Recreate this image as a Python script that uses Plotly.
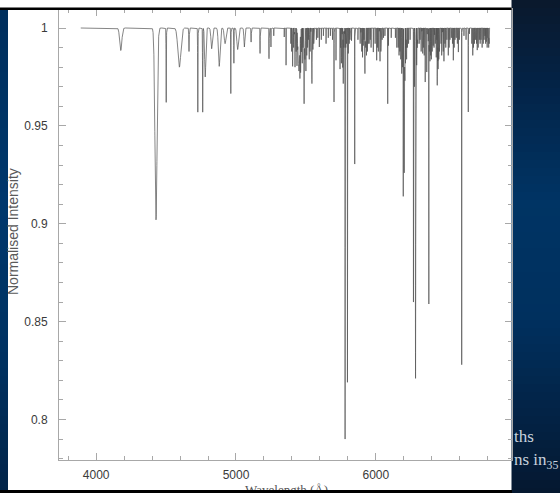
import numpy as np
import plotly.graph_objects as go

# ---------------- data ----------------
# absorption features: centre wavelength (Angstrom), depth below continuum
line_centres = [
    4176, 4428, 4501, 4595, 4664, 4727, 4762, 4780, 4826, 4880, 4922, 4963, 4985,
    5012, 5060, 5108, 5172, 5236, 5250, 5270, 5345, 5358,
    5392, 5398, 5405, 5412, 5418, 5422, 5430, 5436, 5441, 5450, 5457, 5462, 5468,
    5474, 5479, 5487, 5493, 5500, 5506, 5512, 5518, 5524, 5530, 5536, 5543, 5547,
    5550, 5556, 5575, 5585, 5596, 5610, 5625, 5644, 5660, 5675, 5690,
    5701, 5715, 5744, 5748, 5754, 5760, 5763, 5767, 5772, 5776, 5780, 5785, 5790,
    5797, 5803, 5810, 5815, 5826, 5849, 5872, 5888, 5894, 5899, 5905, 5910, 5916,
    5922, 5928, 5933, 5940, 5945, 5952, 5960, 5966, 5982, 5995, 6006, 6011, 6018,
    6025, 6030, 6036, 6040, 6045, 6055, 6065, 6085, 6090, 6110, 6140, 6150,
    6160, 6166, 6172, 6178, 6185, 6190, 6196, 6203, 6208, 6212, 6216, 6220, 6226,
    6234, 6245, 6269, 6276, 6284, 6288, 6292, 6296, 6300, 6310, 6316, 6324, 6330,
    6335, 6340, 6346, 6353, 6364, 6367, 6376, 6379, 6383, 6387, 6392, 6397, 6403,
    6410, 6416, 6420, 6425, 6432, 6436, 6439, 6443, 6445, 6450, 6455, 6460, 6466,
    6471, 6478, 6482, 6487, 6494, 6500, 6508, 6518, 6524, 6530, 6540, 6548, 6554,
    6560, 6566, 6575, 6583, 6590, 6597, 6614, 6630, 6645, 6661, 6669, 6686, 6693,
    6698, 6700, 6705, 6712, 6720, 6725, 6732, 6740, 6746, 6752, 6760, 6768, 6774,
    6780, 6785, 6790, 6796, 6802, 6807, 6811,
]
line_depths = [
    0.0115, 0.098, 0.038, 0.020, 0.012, 0.043, 0.043, 0.025, 0.0106, 0.0196, 0.008, 0.0335, 0.018,
    0.011, 0.0097, 0.0072, 0.013, 0.0157, 0.0097, 0.004, 0.0046, 0.019,
    0.008, 0.012, 0.0196, 0.010, 0.015, 0.020, 0.012, 0.018, 0.010, 0.022, 0.015, 0.020, 0.012,
    0.018, 0.010, 0.0387, 0.016, 0.022, 0.014, 0.010, 0.012, 0.016, 0.012, 0.009, 0.0284, 0.012,
    0.011, 0.008, 0.006, 0.005, 0.0097, 0.006, 0.004, 0.008, 0.005, 0.004, 0.006,
    0.0378, 0.0165, 0.021, 0.012, 0.018, 0.015, 0.020, 0.0284, 0.010, 0.014, 0.21, 0.010, 0.008,
    0.181, 0.013, 0.008, 0.006, 0.0065, 0.0695, 0.006, 0.008, 0.0106, 0.012, 0.015, 0.009, 0.012,
    0.0233, 0.010, 0.014, 0.012, 0.008, 0.008, 0.006, 0.010, 0.0123, 0.008, 0.0165, 0.010, 0.012,
    0.008, 0.017, 0.012, 0.010, 0.006, 0.005, 0.004, 0.0387, 0.009, 0.005, 0.005, 0.010,
    0.010, 0.014, 0.012, 0.016, 0.0233, 0.020, 0.086, 0.074, 0.026, 0.018, 0.012, 0.016, 0.010,
    0.008, 0.006, 0.14, 0.030, 0.179, 0.020, 0.019, 0.012, 0.008, 0.008, 0.006, 0.012, 0.008,
    0.013, 0.010, 0.014, 0.0276, 0.0225, 0.015, 0.108, 0.141, 0.012, 0.017, 0.014, 0.016, 0.012,
    0.009, 0.010, 0.007, 0.008, 0.015, 0.012, 0.0293, 0.020, 0.021, 0.016, 0.012, 0.010, 0.008,
    0.014, 0.010, 0.012, 0.017, 0.008, 0.010, 0.006, 0.014, 0.010, 0.006, 0.005, 0.008, 0.0165,
    0.010, 0.006, 0.005, 0.008, 0.0123, 0.006, 0.172, 0.004, 0.006, 0.0429, 0.003, 0.008, 0.014,
    0.010, 0.006, 0.008, 0.006, 0.008, 0.0113, 0.010, 0.006, 0.008, 0.006, 0.010, 0.008, 0.006,
    0.004, 0.008, 0.007, 0.010, 0.006, 0.010, 0.008,
]
# FWHM (Angstrom) of the broader features; all others are narrow
broad_widths = {4176: 18, 4428: 18, 4501: 3, 4595: 25, 4664: 4, 4727: 3, 4762: 3, 4780: 10,
                4826: 12, 4880: 14, 4922: 14, 4963: 2.5, 4985: 3, 5012: 14, 5060: 8,
                5108: 3, 5172: 2, 5236: 2, 5250: 2, 5405: 3, 5422: 3, 5450: 14, 5487: 4,
                5500: 3, 5524: 3, 5543: 3, 5767: 3, 5780: 2.1, 5922: 3, 6203: 4, 6284: 3}
narrow_width = 1.0

wave_start, wave_end = 3890, 6816

x_tick_vals = [4000, 5000, 6000]
x_tick_text = ["4000", "5000", "6000"]
y_tick_vals = [0.8, 0.85, 0.9, 0.95, 1.0]
y_tick_text = ["0.8", "0.85", "0.9", "0.95", "1"]

# ---------------- build spectrum ----------------
wave = np.arange(wave_start, wave_end + 0.25, 0.25)
flux = np.ones_like(wave)
for c, d in zip(line_centres, line_depths):
    w = broad_widths.get(c, narrow_width)
    sig = w / 2.3548
    flux *= 1 - d * np.exp(-0.5 * ((wave - c) / sig) ** 2)

# ---------------- layout geometry ----------------
W, H = 560, 493
ML, MR, MT, MB = 59, 48, 9, 33
PW, PH = W - ML - MR, H - MT - MB


def px(xp):
    return (xp - ML) / PW


def py(yp):
    return (H - MB - yp) / PH


def hexc(c):
    return "#%02x%02x%02x" % tuple(int(round(v)) for v in c)


def grad(stops, y):
    for (y0, c0), (y1, c1) in zip(stops[:-1], stops[1:]):
        if y0 <= y <= y1:
            f = (y - y0) / (y1 - y0)
            return hexc([a + (b - a) * f for a, b in zip(c0, c1)])
    return hexc(stops[-1][1])


right_stops = [(0, (10, 24, 44)), (90, (3, 36, 72)), (200, (0, 52, 100)),
               (320, (0, 48, 94)), (420, (3, 34, 68)), (493, (5, 24, 48))]
left_stops = [(0, (0, 46, 92)), (200, (0, 56, 108)), (350, (0, 50, 98)), (493, (2, 36, 72))]

shapes = []
step = 8
for y0 in range(0, H, step):
    y1 = min(H, y0 + step)
    shapes.append(dict(type="rect", xref="paper", yref="paper", layer="below",
                       x0=px(511), x1=px(W + 2), y0=py(y1), y1=py(y0),
                       fillcolor=grad(right_stops, y0 + step / 2), line_width=0))
    shapes.append(dict(type="rect", xref="paper", yref="paper", layer="below",
                       x0=px(-2), x1=px(8), y0=py(y1), y1=py(y0),
                       fillcolor=grad(left_stops, y0 + step / 2), line_width=0))
# white panel
shapes.append(dict(type="rect", xref="paper", yref="paper", layer="below",
                   x0=px(8), x1=px(511.5), y0=py(490), y1=py(9),
                   fillcolor="white", line_width=0))
shapes.append(dict(type="rect", xref="paper", yref="paper", layer="below",
                   x0=px(-2), x1=px(511.5), y0=py(8), y1=py(-2),
                   fillcolor="white", line_width=0))
# top black rule
shapes.append(dict(type="rect", xref="paper", yref="paper", layer="above",
                   x0=px(-2), x1=px(511.5), y0=py(10), y1=py(7.5),
                   fillcolor="black", line_width=0))

fig = go.Figure()
fig.add_trace(go.Scatter(x=wave, y=flux, mode="lines",
                         line=dict(color="#505050", width=0.7),
                         hoverinfo="skip", showlegend=False))

tick_font = dict(family="Liberation Sans, Arial, sans-serif", size=12, color="#3a3a3a")
axis_common = dict(showgrid=False, zeroline=False, showline=True, linecolor="#a8a8a8",
                   linewidth=1, ticks="inside", tickcolor="#a8a8a8", ticklen=7,
                   tickwidth=1, mirror="ticks", tickfont=tick_font)

fig.update_xaxes(range=[4428 + (ML - 156) / 0.13985, 4428 + (W - MR - 156) / 0.13985],
                 tickvals=x_tick_vals, ticktext=x_tick_text,
                 minor=dict(dtick=200, ticks="inside", ticklen=4, tickcolor="#a8a8a8"),
                 ticklabelstandoff=4, **axis_common)
fig.update_yaxes(range=[1 - (H - MB - 28) / 1957.5, 1 + (28 - MT) / 1957.5],
                 tickvals=y_tick_vals, ticktext=y_tick_text,
                 minor=dict(dtick=0.01, ticks="inside", ticklen=4, tickcolor="#a8a8a8"),
                 ticklabelstandoff=8, **axis_common)

annotations = [
    dict(text="Normalised Intensity", xref="paper", yref="paper", x=px(13), y=py(232),
         showarrow=False, textangle=-90, xanchor="center", yanchor="middle",
         font=dict(family="Liberation Sans, Arial, sans-serif", size=14, color="#5a5a5a")),
    dict(text="Wavelength (\u00c5)", xref="paper", yref="paper", x=px(286), y=py(480),
         showarrow=False, xanchor="center", yanchor="top",
         font=dict(family="Liberation Serif, serif", size=13, color="#555555")),
    dict(text="ths", xref="paper", yref="paper", x=px(512), y=py(436),
         showarrow=False, xanchor="left", yanchor="middle",
         font=dict(family="Liberation Serif, serif", size=17, color="#c8d2de")),
    dict(text="ns in<sub>35</sub>", xref="paper", yref="paper", x=px(512), y=py(461),
         showarrow=False, xanchor="left", yanchor="middle",
         font=dict(family="Liberation Serif, serif", size=17, color="#c8d2de")),
    # bottom black rule (drawn as annotation so it sits above the cut-off title)
    dict(text=" ", xref="paper", yref="paper", x=px(-2), y=py(490), xanchor="left",
         yanchor="top", showarrow=False, width=514, height=8, bgcolor="black",
         borderpad=0, borderwidth=0, font=dict(size=6, color="black")),
]

fig.update_layout(width=W, height=H, margin=dict(l=ML, r=MR, t=MT, b=MB),
                  paper_bgcolor="#03264a", plot_bgcolor="rgba(0,0,0,0)",
                  shapes=shapes, annotations=annotations, showlegend=False)

fig.write_html("out.html", config={"displayModeBar": False},
               post_script="document.body.style.margin='0px';document.body.style.padding='0px';")
